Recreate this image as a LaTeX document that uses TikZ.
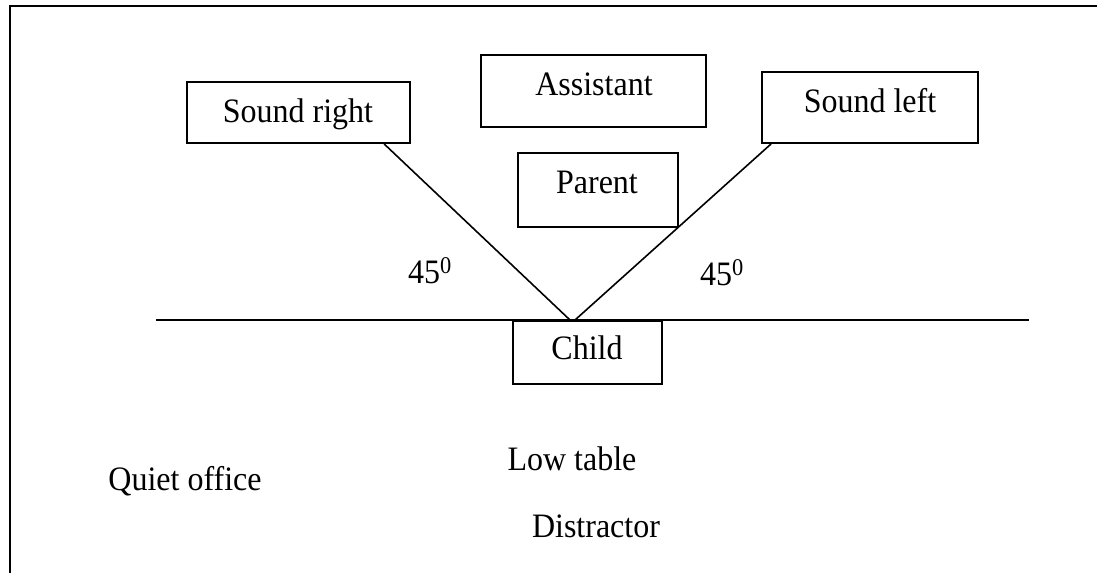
\documentclass[tikz,border=0pt]{standalone}
\usepackage{fontspec}
\setmainfont{Liberation Serif}
\usetikzlibrary{calc}
\newcommand{\tallt}[1]{\scalebox{1}[1.07]{#1}}
\begin{document}
\begin{tikzpicture}[x=1pt,y=-1pt,
  box/.style={draw,line width=1.8pt,inner sep=0pt,minimum width=#1},
  lbl/.style={anchor=base,inner sep=0pt,font=\fontsize{32}{38}\selectfont},
  ln/.style={line width=1.6pt},
  frame/.style={line width=2.2pt}]
\useasboundingbox (0,0) rectangle (1097,573);
% frame (top and left edges)
\coordinate (ftl) at (10,6);
\coordinate (ftr) at (1097,6);
\coordinate (fbl) at (10,573);
\draw[frame] (ftr) -- (ftl) -- (fbl);
% boxes
\node[box=223pt,minimum height=61pt] (srbox) at (298.5,112.5) {};
\node[box=225pt,minimum height=72pt] (asbox) at (593.5,91) {};
\node[box=160pt,minimum height=74pt] (pabox) at (598,190) {};
\node[box=216pt,minimum height=71pt] (slbox) at (870,107.5) {};
\node[box=149pt,minimum height=63pt] (chbox) at (587.5,352.5) {};
% box texts
\node[lbl] (sr) at (298,122) {\tallt{Sound right}};
\node[lbl] (as) at (594,95) {\tallt{Assistant}};
\node[lbl] (pa) at (597,193) {\tallt{Parent}};
\node[lbl] (sl) at (870,112) {\tallt{Sound left}};
\node[lbl] (ch) at (587,359) {\tallt{Child}};
% horizontal line
\coordinate (hl) at (156,320);
\coordinate (hr) at (1029,320);
\draw[ln] (hl) -- (hr);
% angle lines
\coordinate (apl) at (570,320);
\coordinate (apr) at (575,320);
\draw[ln] ($(srbox.south west)+(198,0)$) -- (apl);
\draw[ln] (apr) -- ($(slbox.south west)+(10,0)$);
% angle labels
\node[lbl] (al) at (430,283) {\tallt{45\textsuperscript{0}}};
\node[lbl] (ar) at (722,285) {\tallt{45\textsuperscript{0}}};
% free texts
\node[lbl] (qo) at (185,490) {\tallt{Quiet office}};
\node[lbl] (lt) at (572,470) {\tallt{Low table}};
\node[lbl] (di) at (596,537) {\tallt{Distractor}};
\end{tikzpicture}
\end{document}
